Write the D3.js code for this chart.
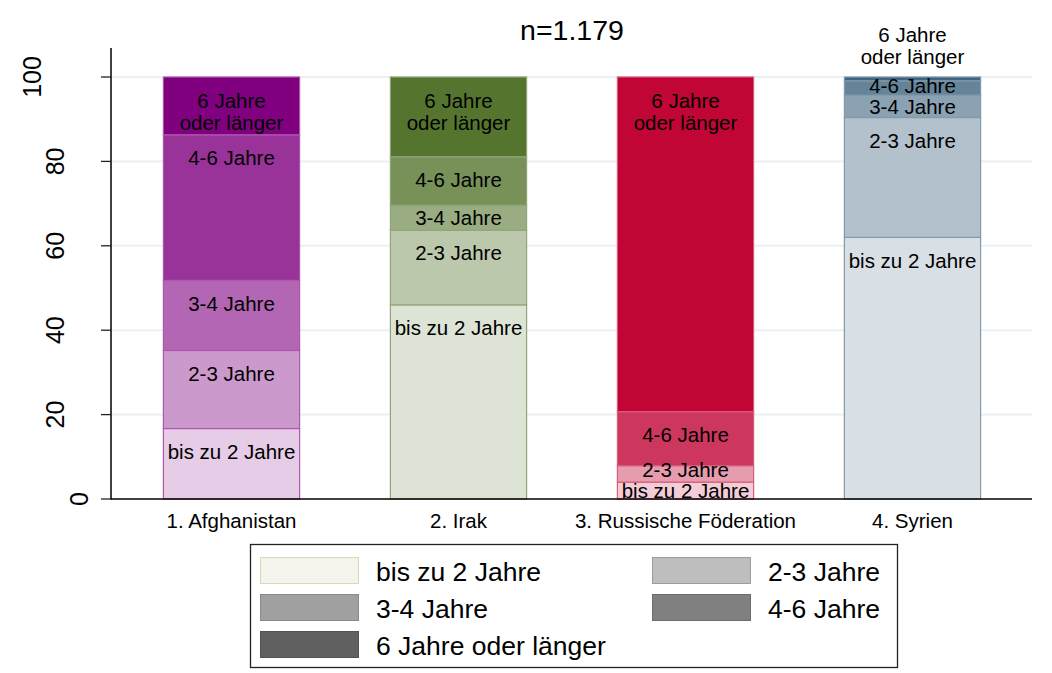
<!DOCTYPE html>
<html><head><meta charset="utf-8">
<script src="https://cdn.jsdelivr.net/npm/d3@7"></script>
<style>
html,body{margin:0;padding:0;background:#fff;}
text{font-family:"Liberation Sans",Arial,sans-serif;fill:#000;}
</style></head>
<body><svg id="c" width="1052" height="673"></svg>
<script>
// ---- data ----
const countries = ["1. Afghanistan", "2. Irak", "3. Russische Föderation", "4. Syrien"];
const categories = ["bis zu 2 Jahre", "2-3 Jahre", "3-4 Jahre", "4-6 Jahre", "6 Jahre oder länger"];
const bisZu2 = [16.7, 46.0, 4.0, 62.0];
const j2bis3 = [18.5, 17.7, 3.9, 28.4];
const j3bis4 = [16.6, 5.9, 0.0, 5.3];
const j4bis6 = [34.5, 11.5, 12.8, 3.4];
const j6plus = [13.7, 18.9, 79.3, 0.9];
const yTicks = [0, 20, 40, 60, 80, 100];
const title = "n=1.179";

// ---- styles ----
const baseColors = ["#800080", "#55752f", "#c10534", "#3e6480"];
const intensities = [0.2, 0.4, 0.6, 0.8, 1.0];
const legendFill = ["#f4f4ec", "#bebebe", "#a0a0a0", "#808080", "#606060"];
const legendStroke = ["#dcd8b4", "#9c9c9c", "#8a8a8a", "#6c6c6c", "#525252"];
const segLabels = [["bis zu 2 Jahre"], ["2-3 Jahre"], ["3-4 Jahre"], ["4-6 Jahre"], ["6 Jahre", "oder länger"]];

const series = [bisZu2, j2bis3, j3bis4, j4bis6, j6plus];
const rows = countries.map((c, i) => {
  const o = {country: c};
  categories.forEach((k, j) => o[k] = series[j][i]);
  return o;
});
const stacked = d3.stack().keys(categories)(rows);

const svg = d3.select("#c");
const x0 = 111, x1 = 1032, yBottom = 499, yTop100 = 77, axisTop = 48;

const x = d3.scaleBand().domain(countries).range([118, 1026]).paddingInner(0.4).paddingOuter(0.2);
const y = d3.scaleLinear().domain([0, 100]).range([yBottom, yTop100]);

function mix(col, t) {
  const c = d3.rgb(col);
  return d3.rgb(255 + (c.r - 255) * t, 255 + (c.g - 255) * t, 255 + (c.b - 255) * t).formatHex();
}

// gridlines
svg.append("g").selectAll("line").data(yTicks.filter(d => d > 0)).join("line")
  .attr("x1", x0).attr("x2", x1).attr("y1", d => y(d)).attr("y2", d => y(d))
  .attr("stroke", "#eaf1f3").attr("stroke-width", 2);

// bars
const gBars = svg.append("g");
stacked.forEach((layer, j) => {
  gBars.selectAll(null).data(layer).join("rect")
    .filter(d => d[1] - d[0] > 0)
    .attr("x", d => x(d.data.country))
    .attr("width", x.bandwidth())
    .attr("y", d => y(d[1]))
    .attr("height", d => y(d[0]) - y(d[1]))
    .attr("fill", d => mix(baseColors[countries.indexOf(d.data.country)], intensities[j]))
    .attr("stroke", d => mix(baseColors[countries.indexOf(d.data.country)], 0.65))
    .attr("stroke-width", 1.2);
});

// segment labels
const lineGap = 22;
const gLab = svg.append("g").attr("font-size", 20.5).attr("text-anchor", "middle");
countries.forEach((c, i) => {
  const cx = x(c) + x.bandwidth() / 2;
  const labs = [];
  stacked.forEach((layer, j) => {
    const d = layer[i];
    const top = y(d[1]), bot = y(d[0]), h = bot - top;
    if (h <= 0) return;
    const lines = segLabels[j];
    if (h < 8) {
      labs.push({j, lines, yc: y(100) - 12 - lineGap * (lines.length - 1) - 8, above: true});
    } else if (lines.length === 2) {
      labs.push({j, lines, yc: top + 24});
    } else {
      labs.push({j, lines, yc: Math.min(top + 23, top + h / 2)});
    }
  });
  for (let k = 1; k < labs.length; k++) {
    if (labs[k].above) continue;
    if (labs[k - 1].yc - labs[k].yc < 21) labs[k].yc = labs[k - 1].yc - 21;
  }
  labs.forEach(l => {
    const t = gLab.append("text").attr("x", cx).attr("y", l.yc).attr("dy", "0.35em");
    l.lines.forEach((s, m) => {
      t.append("tspan").attr("x", cx).attr("dy", m === 0 ? null : lineGap).text(s);
    });
  });
});

// axes
svg.append("line").attr("x1", x0).attr("x2", x0).attr("y1", axisTop).attr("y2", yBottom + 0.5)
  .attr("stroke", "#000").attr("stroke-width", 1.5);
svg.append("line").attr("x1", x0).attr("x2", x1).attr("y1", yBottom).attr("y2", yBottom)
  .attr("stroke", "#000").attr("stroke-width", 1.5);
const gY = svg.append("g");
gY.selectAll("line").data(yTicks).join("line")
  .attr("x1", 101).attr("x2", x0).attr("y1", d => y(d)).attr("y2", d => y(d))
  .attr("stroke", "#222").attr("stroke-width", 1.3);
gY.selectAll("text").data(yTicks).join("text")
  .attr("font-size", 25).attr("text-anchor", "middle").attr("dominant-baseline", "central")
  .attr("transform", d => `translate(${102 - 23.5 * String(d).length},${y(d)}) rotate(-90)`)
  .text(d => d);

svg.append("g").selectAll("text").data(countries).join("text")
  .attr("x", d => x(d) + x.bandwidth() / 2).attr("y", 528)
  .attr("font-size", 20.5).attr("text-anchor", "middle").text(d => d);

// title
svg.append("text").attr("x", 572).attr("y", 40).attr("font-size", 28.5)
  .attr("text-anchor", "middle").text(title);

// legend
const lg = svg.append("g");
lg.append("rect").attr("x", 250.5).attr("y", 544.5).attr("width", 647).attr("height", 123)
  .attr("fill", "#fff").attr("stroke", "#222").attr("stroke-width", 1.3);
categories.forEach((k, j) => {
  const col = j % 2, row = Math.floor(j / 2);
  const sx = col === 0 ? 260 : 652, cy = 570 + row * 37;
  lg.append("rect").attr("x", sx + 0.5).attr("y", cy - 13 + 0.5).attr("width", 98).attr("height", 26)
    .attr("fill", legendFill[j]).attr("stroke", legendStroke[j]);
  lg.append("text").attr("x", sx + 116).attr("y", cy + 1.5).attr("dominant-baseline", "central")
    .attr("font-size", 26.5).text(k);
});
</script></body></html>
